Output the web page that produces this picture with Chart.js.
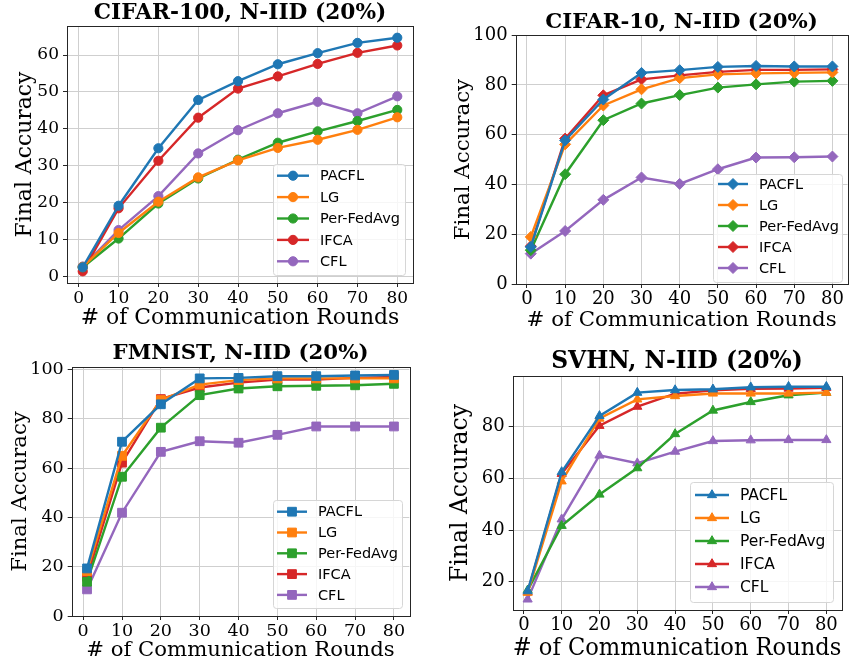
<!DOCTYPE html>
<html>
<head>
<meta charset="utf-8">
<script src="https://cdn.jsdelivr.net/npm/chart.js@4.4.0/dist/chart.umd.min.js"></script>
<style>
  html, body { margin: 0; padding: 0; background: #fff; }
  #wrap { position: relative; width: 854px; height: 665px; }
  canvas { position: absolute; }
</style>
</head>
<body>
<div id="wrap">
  <canvas id="c1" width="427" height="335" style="left:0;top:0"></canvas>
  <canvas id="c2" width="427" height="335" style="left:427px;top:0"></canvas>
  <canvas id="c3" width="427" height="330" style="left:0;top:335px"></canvas>
  <canvas id="c4" width="427" height="330" style="left:427px;top:335px"></canvas>
</div>
<script>
const rounds = [1, 10, 20, 30, 40, 50, 60, 70, 80];
const methods = ['PACFL', 'LG', 'Per-FedAvg', 'IFCA', 'CFL'];
const colors = ['#1f77b4', '#ff7f0e', '#2ca02c', '#d62728', '#9467bd'];

// rows follow the order of `methods`
const cifar100 = [
  [2.4, 19.1, 34.7, 47.8, 52.9, 57.5, 60.5, 63.3, 64.7],
  [2.5, 11.7, 20.2, 26.8, 31.4, 34.8, 37.0, 39.7, 43.1],
  [2.4, 10.2, 19.7, 26.5, 31.6, 36.2, 39.3, 42.1, 45.1],
  [1.3, 18.4, 31.3, 43.0, 50.9, 54.2, 57.6, 60.6, 62.6],
  [2.6, 12.5, 21.7, 33.3, 39.6, 44.2, 47.3, 44.2, 48.8]
];
const cifar10 = [
  [14.9, 57.7, 74.1, 84.8, 85.9, 87.2, 87.6, 87.4, 87.4],
  [18.9, 56.1, 71.7, 78.2, 82.7, 84.2, 84.6, 84.8, 85.0],
  [13.6, 44.1, 65.8, 72.5, 75.9, 78.9, 80.2, 81.3, 81.6],
  [15.2, 58.4, 75.8, 82.2, 83.8, 85.2, 86.0, 86.0, 86.2],
  [12.2, 21.3, 33.8, 42.8, 40.2, 46.1, 50.8, 50.9, 51.2]
];
const fmnist = [
  [19.3, 70.7, 85.9, 96.4, 96.6, 97.3, 97.3, 97.6, 97.8],
  [18.2, 65.0, 87.6, 93.9, 95.7, 96.4, 96.4, 96.4, 96.4],
  [13.9, 56.5, 76.4, 89.6, 92.3, 93.2, 93.4, 93.6, 94.2],
  [15.9, 62.2, 88.0, 92.7, 94.7, 95.9, 95.9, 96.6, 97.0],
  [10.8, 41.9, 66.6, 70.9, 70.3, 73.5, 76.9, 76.9, 76.9]
];
const svhn = [
  [16.4, 62.5, 84.2, 93.2, 94.2, 94.5, 95.3, 95.5, 95.5],
  [15.8, 58.9, 83.2, 90.6, 91.9, 92.9, 92.9, 92.9, 93.2],
  [16.7, 41.7, 53.8, 64.0, 77.2, 86.3, 89.6, 92.2, 93.2],
  [16.0, 61.8, 80.4, 87.8, 92.8, 94.1, 94.7, 94.8, 95.1],
  [13.2, 44.2, 68.9, 65.9, 70.4, 74.5, 74.8, 74.9, 74.9]
];

// matplotlib-style autoscale: data range plus 5% on each side
function autoRange(rows) {
  const all = rows.flat();
  const lo = Math.min(...all), hi = Math.max(...all);
  const pad = (hi - lo) * 0.05;
  return [lo - pad, hi + pad];
}
const xPad = (rounds[rounds.length - 1] - rounds[0]) * 0.05;

const panels = [
  {
    id: 'c1', title: 'CIFAR-100, N-IID (20%)', values: cifar100, marker: 'circle', radius: 4.6,
    yRange: autoRange(cifar100), yStep: 10,
    titleSize: 21.7, titleTop: 0, titleBottom: 0, tickSize: 17, labelSize: 21.9,
    yAxisW: 67, xAxisH: 52, padRight: 14, yTitlePad: 12, xTitlePad: 3.5,
    legend: { x: 273, y: 164, w: 132, h: 111, row: 21.4, first: 11.7, font: 14.5, lineX: 277, lineW: 32, textX: 320 }
  },
  {
    id: 'c2', title: 'CIFAR-10, N-IID (20%)', values: cifar10, marker: 'rectRot', radius: 5.5,
    yRange: [0, 100], yStep: 20,
    titleSize: 21.3, titleTop: 9.5, titleBottom: 0, tickSize: 18, labelSize: 21.3,
    yAxisW: 88.7, xAxisH: 51, padRight: 1, yTitlePad: 24, xTitlePad: 2,
    legend: { x: 286, y: 174, w: 129, h: 108, row: 21, first: 10, font: 14.5, lineX: 291, lineW: 30, textX: 332 }
  },
  {
    id: 'c3', title: 'FMNIST, N-IID (20%)', values: fmnist, marker: 'rect', radius: 6.2,
    yRange: [0, 101], yStep: 20,
    titleSize: 21.3, titleTop: 5.5, titleBottom: 1, tickSize: 17.5, labelSize: 21.2,
    yAxisW: 71.7, xAxisH: 49, padRight: 17.7, yTitlePad: 8, xTitlePad: 2,
    legend: { x: 273, y: 165, w: 129, h: 108, row: 20.8, first: 11.7, font: 14.5, lineX: 277, lineW: 30, textX: 318 }
  },
  {
    id: 'c4', title: 'SVHN, N-IID (20%)', values: svhn, marker: 'triangle', radius: 5.3,
    yRange: autoRange(svhn), yStep: 20,
    titleSize: 23.4, titleTop: 13, titleBottom: 0, tickSize: 18, labelSize: 23.5,
    yAxisW: 85.7, xAxisH: 55, padRight: 12.7, yTitlePad: 20, xTitlePad: 2.5,
    legend: { x: 263, y: 147, w: 143, h: 120, row: 23, first: 13, font: 15.5, lineX: 268, lineW: 34, textX: 313 }
  }
];

// full box around the plot area, like axes spines
const framePlugin = {
  id: 'frame',
  afterDatasetsDraw(chart) {
    const { ctx, chartArea: a } = chart;
    ctx.save();
    ctx.strokeStyle = '#262626';
    ctx.lineWidth = 1;
    ctx.strokeRect(Math.round(a.left) + 0.5, Math.round(a.top) + 0.5,
      Math.round(a.right - a.left), Math.round(a.bottom - a.top));
    ctx.restore();
  }
};

// legend box drawn inside the plot area
const boxLegendPlugin = {
  id: 'boxLegend',
  afterDraw(chart, args, opts) {
    const { ctx } = chart;
    ctx.save();
    ctx.beginPath();
    ctx.roundRect(opts.x + 0.5, opts.y + 0.5, opts.w, opts.h, 3);
    ctx.fillStyle = 'rgba(255,255,255,0.8)';
    ctx.fill();
    ctx.strokeStyle = '#d6d6d6';
    ctx.lineWidth = 1;
    ctx.stroke();
    ctx.font = opts.font + 'px "DejaVu Sans"';
    ctx.textBaseline = 'middle';
    chart.data.datasets.forEach((ds, i) => {
      const y = opts.y + opts.first + i * opts.row;
      ctx.strokeStyle = ds.borderColor;
      ctx.lineWidth = ds.borderWidth;
      ctx.beginPath();
      ctx.moveTo(opts.lineX, y);
      ctx.lineTo(opts.lineX + opts.lineW, y);
      ctx.stroke();
      ctx.fillStyle = ds.borderColor;
      ctx.lineWidth = 1;
      Chart.helpers.drawPoint(ctx, { pointStyle: ds.pointStyle, radius: ds.pointRadius, rotation: 0, borderWidth: 1 },
        opts.lineX + opts.lineW / 2, y);
      ctx.fillStyle = '#000';
      ctx.fillText(ds.label, opts.textX, y + 1);
    });
    ctx.restore();
  }
};

function makeChart(p) {
  const datasets = methods.map((name, i) => ({
    label: name,
    data: rounds.map((r, j) => ({ x: r, y: p.values[i][j] })),
    borderColor: colors[i],
    backgroundColor: colors[i],
    pointBackgroundColor: colors[i],
    pointBorderColor: colors[i],
    pointStyle: p.marker,
    pointRadius: p.radius,
    pointBorderWidth: 1,
    borderWidth: 2.4,
    tension: 0
  }));

  const tickFont = { family: 'DejaVu Serif', size: p.tickSize };
  const labelFont = { family: 'DejaVu Serif', size: p.labelSize, lineHeight: 1.2 };
  const grid = { color: '#cfcfcf', lineWidth: 1, tickColor: '#262626', tickLength: 4 };

  new Chart(document.getElementById(p.id), {
    type: 'line',
    data: { datasets },
    options: {
      responsive: false,
      animation: false,
      layout: { padding: { left: 0, right: p.padRight, top: 0, bottom: 0 } },
      plugins: {
        legend: { display: false },
        tooltip: { enabled: false },
        title: {
          display: true,
          text: p.title,
          fullSize: false,
          color: '#000',
          font: { family: 'DejaVu Serif', weight: 'bold', size: p.titleSize, lineHeight: 1.2 },
          padding: { top: p.titleTop, bottom: p.titleBottom }
        },
        boxLegend: p.legend
      },
      scales: {
        x: {
          type: 'linear',
          min: rounds[0] - xPad,
          max: rounds[rounds.length - 1] + xPad,
          afterFit: (s) => { s.height = p.xAxisH; },
          ticks: { stepSize: 10, includeBounds: false, color: '#000', font: tickFont, padding: 1, maxRotation: 0 },
          grid: grid,
          border: { display: false },
          title: { display: true, text: '# of Communication Rounds', color: '#000', font: labelFont, padding: { bottom: p.xTitlePad, top: 0 } }
        },
        y: {
          min: p.yRange[0],
          max: p.yRange[1],
          afterFit: (s) => { s.width = p.yAxisW; },
          ticks: { stepSize: p.yStep, includeBounds: false, color: '#000', font: tickFont, padding: 4 },
          grid: grid,
          border: { display: false },
          title: { display: true, text: 'Final Accuracy', color: '#000', font: labelFont, padding: { top: p.yTitlePad, bottom: 0 } }
        }
      }
    },
    plugins: [framePlugin, boxLegendPlugin]
  });
}

panels.forEach(makeChart);
</script>
</body>
</html>
